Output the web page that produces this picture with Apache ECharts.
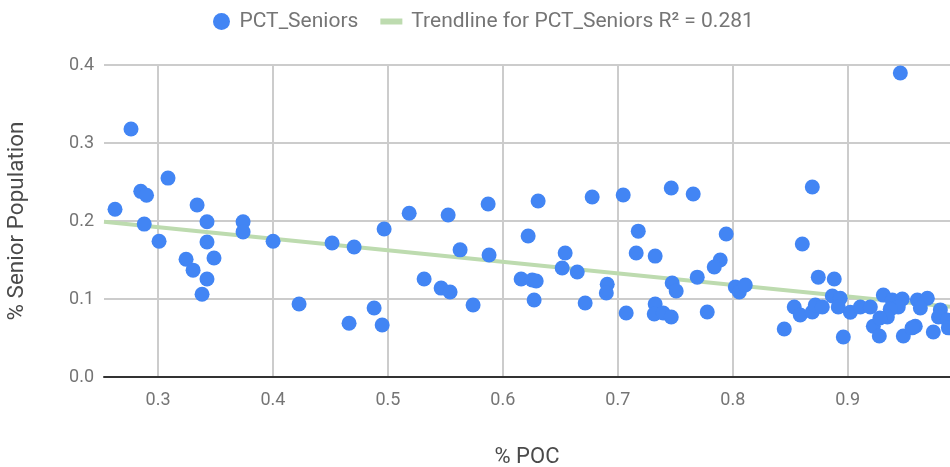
<!DOCTYPE html>
<html>
<head>
<meta charset="utf-8">
<script src="https://cdn.jsdelivr.net/npm/echarts@6/dist/echarts.min.js"></script>
<style>
  html, body { margin: 0; padding: 0; background: #fff; }
  #chart { width: 950px; height: 467px; }
</style>
</head>
<body>
<div id="chart"></div>
<script>
// % POC (x) and % senior population (y)
const pocValues = [
  0.2765, 0.2626, 0.285, 0.290, 0.3087, 0.288, 0.3009, 0.334, 0.3426, 0.3426,
  0.3244, 0.3305, 0.3487, 0.3426, 0.3383, 0.374, 0.374, 0.4001, 0.4514, 0.4706,
  0.4967, 0.4227, 0.488, 0.4662, 0.495, 0.5185, 0.5524, 0.5872, 0.6307, 0.622,
  0.5628, 0.588, 0.5315, 0.5463, 0.5541, 0.5741, 0.6159, 0.6255, 0.629, 0.6272,
  0.6777, 0.7047, 0.7465, 0.7656, 0.7178, 0.716, 0.7325, 0.6542, 0.6516, 0.6647,
  0.6908, 0.69, 0.6716, 0.7073, 0.7473, 0.7508, 0.7691, 0.7325, 0.7317, 0.7395,
  0.7465, 0.8692, 0.7943, 0.8605, 0.7891, 0.7839, 0.8022, 0.8057, 0.8109, 0.7778,
  0.8744, 0.8883, 0.8866, 0.8935, 0.8918, 0.8535, 0.8587, 0.8692, 0.8718, 0.8779,
  0.8448, 0.8962, 0.9023, 0.911, 0.9197, 0.931, 0.9388, 0.9475, 0.944, 0.937,
  0.9345, 0.9223, 0.9275, 0.9484, 0.9606, 0.9693, 0.9632, 0.9588, 0.956, 0.9806,
  0.979, 0.9745, 0.9867, 0.9876, 0.928, 0.9458
]
const seniorValues = [
  0.318, 0.215, 0.238, 0.233, 0.255, 0.196, 0.174, 0.2205, 0.199, 0.173,
  0.151, 0.137, 0.1526, 0.1256, 0.106, 0.199, 0.186, 0.174, 0.1718, 0.1667,
  0.1897, 0.0936, 0.0885, 0.069, 0.0667, 0.210, 0.2077, 0.2218, 0.2256, 0.1808,
  0.163, 0.1564, 0.1256, 0.114, 0.109, 0.0923, 0.1256, 0.1244, 0.123, 0.0987,
  0.2308, 0.2333, 0.2423, 0.2346, 0.187, 0.159, 0.155, 0.159, 0.1397, 0.1346,
  0.119, 0.1077, 0.0949, 0.082, 0.1205, 0.1103, 0.128, 0.0936, 0.0808, 0.082,
  0.077, 0.2436, 0.1833, 0.1705, 0.15, 0.141, 0.1154, 0.109, 0.118, 0.0833,
  0.128, 0.1256, 0.1038, 0.101, 0.0897, 0.0897, 0.0795, 0.0833, 0.0923, 0.0897,
  0.0615, 0.0513, 0.083, 0.0897, 0.0897, 0.105, 0.0987, 0.100, 0.0897, 0.087,
  0.077, 0.065, 0.0526, 0.0526, 0.0987, 0.101, 0.0885, 0.065, 0.063, 0.086,
  0.077, 0.0577, 0.073, 0.063, 0.0756, 0.3897
]

// trendline end points as drawn
const trendX = [0.253, 0.989]
const trendY = [0.199, 0.090]

const yTicks = [0, 0.1, 0.2, 0.3, 0.4]

const labelColor = '#757575'
const nameColor = '#4a4a4a'
const font = 'Roboto'

// flat bar for the trendline legend entry (the two stray points only widen the box)
const trendIcon = 'path://M0,5.5H22V11.5H0Z M0,0L0,0 M26,17L26,17'

const chart = echarts.init(document.getElementById('chart'))

chart.setOption({
  animation: false,
  textStyle: { fontFamily: font },
  legend: {
    top: 6,
    left: 208,
    itemWidth: 26,
    itemHeight: 17,
    itemGap: 22,
    textStyle: { color: labelColor, fontSize: 21, fontFamily: font },
    data: [
      { name: 'PCT_Seniors', icon: 'circle' },
      { name: 'Trendline for PCT_Seniors R² = 0.281', icon: trendIcon }
    ]
  },
  grid: {
    left: 104,
    right: 0,
    top: 65,
    bottom: 90,
    containLabel: false,
    outerBoundsMode: 'none'
  },
  xAxis: {
    type: 'value',
    min: trendX[0],
    max: trendX[1],
    splitNumber: 7,
    name: '% POC',
    nameLocation: 'middle',
    nameGap: 69,
    nameTextStyle: { color: nameColor, fontSize: 22, fontFamily: font },
    axisLine: { show: true, onZero: false, lineStyle: { color: '#333', width: 2 } },
    axisTick: { show: false },
    axisLabel: {
      color: labelColor,
      fontSize: 18,
      margin: 14,
      showMinLabel: false,
      showMaxLabel: false,
      formatter: (v) => v.toFixed(1)
    },
    splitLine: {
      show: true,
      showMinLine: false,
      showMaxLine: false,
      lineStyle: { color: '#cccccc', width: 2 }
    }
  },
  yAxis: {
    type: 'value',
    min: yTicks[0],
    max: yTicks[yTicks.length - 1],
    interval: 0.1,
    name: '% Senior Population',
    nameLocation: 'middle',
    nameRotate: 90,
    nameGap: 75,
    nameTextStyle: { color: nameColor, fontSize: 22.5, fontFamily: font },
    axisLine: { show: false },
    axisTick: { show: false },
    axisLabel: {
      color: labelColor,
      fontSize: 18,
      margin: 10,
      formatter: (v) => v.toFixed(1)
    },
    splitLine: { show: true, lineStyle: { color: '#cccccc', width: 2 } }
  },
  series: [
    {
      name: 'Trendline for PCT_Seniors R² = 0.281',
      type: 'line',
      z: 1,
      symbol: 'none',
      silent: true,
      data: trendX.map((x, i) => [x, trendY[i]]),
      lineStyle: { color: '#bddbaf', width: 4 },
      itemStyle: { color: '#bddbaf' }
    },
    {
      name: 'PCT_Seniors',
      type: 'scatter',
      z: 3,
      symbolSize: 15,
      data: pocValues.map((x, i) => [x, seniorValues[i]]),
      itemStyle: { color: '#4285f4', opacity: 1 }
    }
  ]
})
</script>
</body>
</html>
